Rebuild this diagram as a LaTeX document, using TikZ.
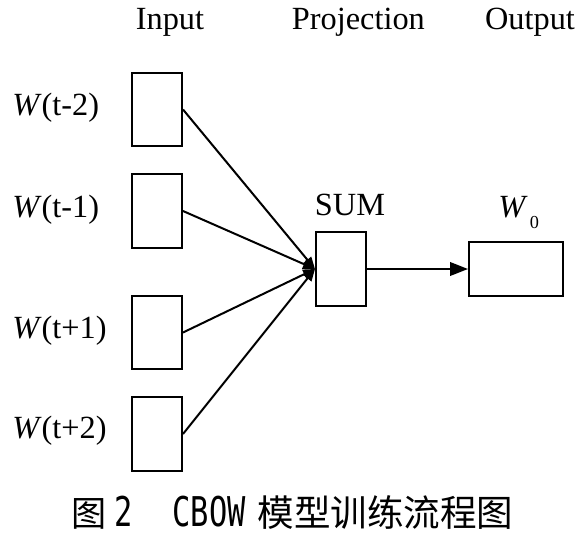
\documentclass[tikz,border=0pt]{standalone}
\usepackage{fontspec}
\usepackage{xcolor}
\usepackage{graphicx}
\setmainfont{Liberation Serif}
\newfontfamily\cjkfont{Noto Sans CJK SC}
\newfontfamily\capmono{DejaVu Sans Mono}
\usetikzlibrary{shapes,arrows.meta,positioning}

\tikzset{
    wordbox/.style={draw, line width=0.5mm, minimum width=1.25cm, minimum height=1.83cm, inner sep=0},
    sumbox/.style={draw, line width=0.5mm, minimum width=1.25cm, minimum height=1.85cm, inner sep=0},
    outbox/.style={draw, line width=0.5mm, minimum width=2.35cm, minimum height=1.35cm, inner sep=0},
    wordlabel/.style={anchor=west, inner sep=0},
    feed/.style={line width=0.5mm, -{Triangle[length=0.3cm,width=0.24cm]}},
    push/.style={line width=0.5mm, -{Triangle[length=0.45cm,width=0.34cm]}}
}

\begin{document}
\begin{tikzpicture}[font=\fontsize{23}{27}\selectfont]
    \useasboundingbox (0,0) rectangle (14.7,-13.6);

    % column titles
    \node[anchor=base] (hin) at (4.25,-0.75) {Input};
    \node[anchor=base] (hproj) at (8.96,-0.75) {Projection};
    \node[anchor=base] (hout) at (13.25,-0.75) {Output};

    % context words
    \node[wordbox] (wa) at (3.925,-2.7375) {};
    \node[wordbox] (wb) at (3.925,-5.275) {};
    \node[wordbox] (wc) at (3.925,-8.3125) {};
    \node[wordbox] (wd) at (3.925,-10.85) {};

    \node[wordlabel] (la) at (0.3,-2.7) {\textit{W}(t-2)};
    \node[wordlabel] (lb) at (0.3,-5.25) {\textit{W}(t-1)};
    \node[wordlabel] (lc) at (0.3,-8.28) {\textit{W}(t+1)};
    \node[wordlabel] (ld) at (0.3,-10.78) {\textit{W}(t+2)};

    % projection and output
    \node[sumbox] (sum) at (8.525,-6.725) {};
    \node[anchor=base] (sumtxt) at (8.75,-5.375) {SUM};

    \node[outbox] (out) at (12.9,-6.725) {};
    \node[anchor=base west, inner sep=0] (wout) at (12.45,-5.425)
        {\textit{W}\hspace{1.5pt}\raisebox{-8.5pt}{\fontsize{13}{15}\selectfont 0}};

    \foreach \w in {wa,wb,wc,wd}
        \draw[feed] (\w.east) -- (sum.west);

    \draw[push] (sum.east) -- (out.west);

    % caption
    \node[anchor=base west, inner sep=0] (cap) at (1.775,-13.15)
        {\fontsize{25}{30}\cjkfont 图\hspace{6pt}\capmono\fontsize{21.6}{26}\selectfont\scalebox{1}[1.35]{2}\hspace{28pt}\scalebox{1}[1.35]{CBOW}\hspace{8.5pt}\cjkfont\fontsize{26}{30}\selectfont 模型训练流程图};
\end{tikzpicture}
\end{document}
